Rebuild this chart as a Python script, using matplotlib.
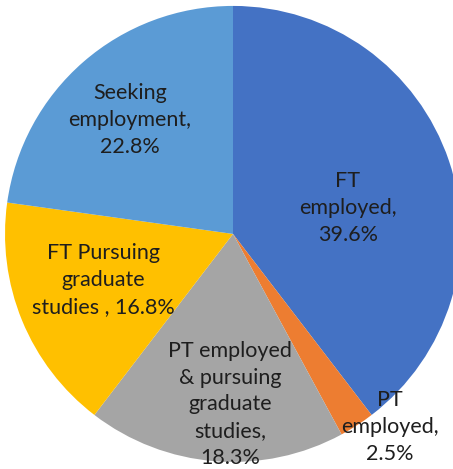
import matplotlib
matplotlib.use("Agg")
import matplotlib.pyplot as plt

categories = ["FT\nemployed,\n39.6%", "PT\nemployed,\n2.5%",
              "PT employed\n& pursuing\ngraduate\nstudies,\n18.3%",
              "FT Pursuing\ngraduate\nstudies , 16.8%",
              "Seeking\nemployment,\n22.8%"]
values = [39.6, 2.5, 18.3, 16.8, 22.8]
colors = ["#4472C4", "#ED7D31", "#A5A5A5", "#FFC000", "#5B9BD5"]

# label anchor positions (in units of pie radius)
label_pos = [(0.504, 0.114), (0.689, -0.846), (-0.013, -0.748),
             (-0.570, -0.202), (-0.452, 0.500)]

plt.rcParams['font.family'] = ['Lato', 'DejaVu Sans']

fig = plt.figure(figsize=(4.53, 4.69), dpi=100)
ax = fig.add_axes([0, 0, 1, 1])
ax.pie(values, colors=colors, startangle=90, counterclock=False,
       radius=1.0, wedgeprops=dict(linewidth=0))
for lab, (x, y) in zip(categories, label_pos):
    ax.text(x, y, lab, ha='center', va='center', fontsize=15.5,
            color='#1e1e1e', linespacing=1.42)
ax.set_xlim(-1.022, 0.965)
ax.set_ylim(-1.031, 1.026)
ax.set_aspect('auto')
ax.axis('off')
fig.savefig("out.png", dpi=100, facecolor='white')
